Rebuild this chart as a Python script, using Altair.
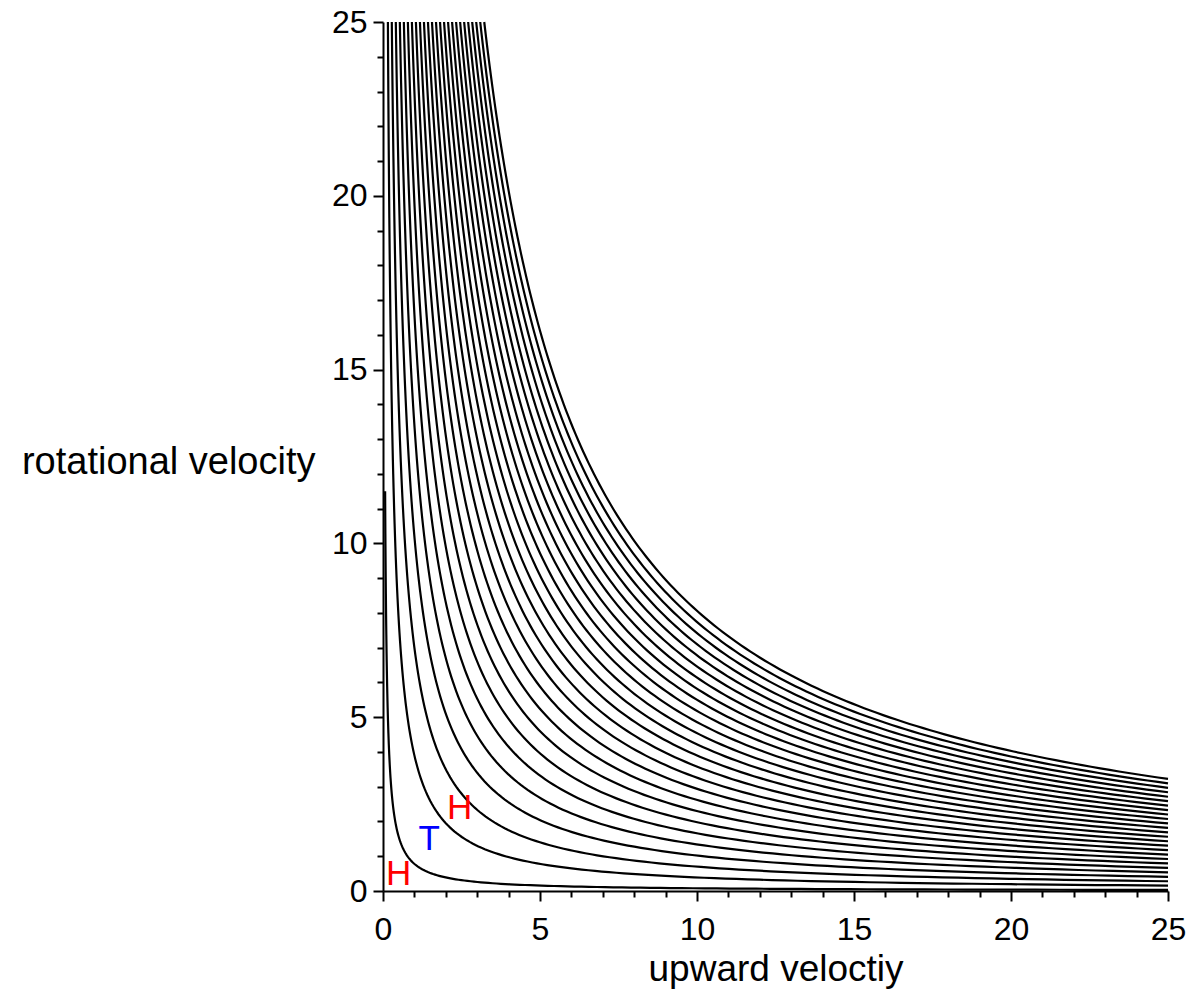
import altair as alt
import numpy as np
import pandas as pd

# Level of each boundary curve: upward velocity x rotational velocity = level
levels = [0.78, 3.9, 7.0, 10.2, 13.4, 16.6, 19.8, 23.0, 26.2, 29.4, 32.6, 35.8, 39.0,
          42.2, 45.4, 48.6, 51.8, 55.0, 58.2, 61.4, 64.6, 67.8, 71.0, 74.2, 77.4, 80.6]
# Highest rotational velocity up to which each curve is drawn (innermost stops near 11.5)
curve_top = [11.5] + [25.0] * 25

x_ticks = list(range(0, 26))
y_ticks = list(range(0, 26))

letters = ["H", "T", "H"]
letter_x = [0.5, 1.47, 2.44]
letter_y = [0.49, 1.49, 2.4]
letter_color = ["#ff0000", "#0000ff", "#ff0000"]

X_MAX = 25.0
rows = []
for i, (c, top) in enumerate(zip(levels, curve_top)):
    xs = np.geomspace(c / top, X_MAX, 160)
    for k, xv in enumerate(xs):
        rows.append({"curve": i, "k": k, "u": float(xv), "w": float(c / xv)})
curves = pd.DataFrame(rows)

marks_df = pd.DataFrame({"txt": letters, "u": letter_x, "w": letter_y, "col": letter_color})

FONT = "Liberation Sans"
major_test = "datum.value % 5 === 0"

x_axis = alt.Axis(
    values=x_ticks,
    labelExpr=f"{major_test} ? datum.label : ''",
    labelOverlap=False,
    labelFlush=False,
    labelFont=FONT,
    labelFontSize=32,
    labelColor="black",
    labelPadding=13,
    tickSize={"condition": {"test": major_test, "value": 10}, "value": 6},
    tickWidth=2,
    tickColor="black",
    domainColor="black",
    domainWidth=2,
    grid=False,
    title="upward veloctiy",
    titleFont=FONT,
    titleFontSize=37,
    titleFontWeight="normal",
    titleColor="black",
    titleY=89,
    titleBaseline="alphabetic",
)

y_axis = alt.Axis(
    values=y_ticks,
    labelExpr=f"{major_test} ? datum.label : ''",
    labelOverlap=False,
    labelFlush=False,
    labelFont=FONT,
    labelFontSize=32,
    labelColor="black",
    labelPadding=6,
    tickSize={"condition": {"test": major_test, "value": 10}, "value": 6},
    tickWidth=2,
    tickColor="black",
    domainColor="black",
    domainWidth=2,
    grid=False,
    title="rotational velocity",
    titleFont=FONT,
    titleFontSize=38,
    titleFontWeight="normal",
    titleColor="black",
    titleAngle=0,
    titleAlign="right",
    titleBaseline="middle",
    titleX=-68,
    titleY=440,
)

xs = alt.Scale(domain=[0, 25], nice=False, zero=False)
ys = alt.Scale(domain=[0, 25], nice=False, zero=False)

lines = alt.Chart(curves).mark_line(color="black", strokeWidth=2.2).encode(
    x=alt.X("u:Q", scale=xs, axis=x_axis, title="upward veloctiy"),
    y=alt.Y("w:Q", scale=ys, axis=y_axis, title="rotational velocity"),
    detail="curve:N",
    order="k:Q",
)

labels = alt.Chart(marks_df).mark_text(
    font=FONT, fontSize=35, align="center", baseline="middle"
).encode(
    x=alt.X("u:Q", scale=xs, axis=x_axis, title="upward veloctiy"),
    y=alt.Y("w:Q", scale=ys, axis=y_axis, title="rotational velocity"),
    text="txt:N",
    color=alt.Color("col:N", scale=None),
)

chart = (
    alt.layer(lines, labels)
    .properties(
        width=785,
        height=869,
        autosize=alt.AutoSizeParams(type="none"),
        padding={"left": 383, "top": 22, "right": 29, "bottom": 117},
        background="white",
    )
    .configure_view(strokeWidth=0)
)

chart.save("out.html", embed_options={"renderer": "svg", "actions": False})
